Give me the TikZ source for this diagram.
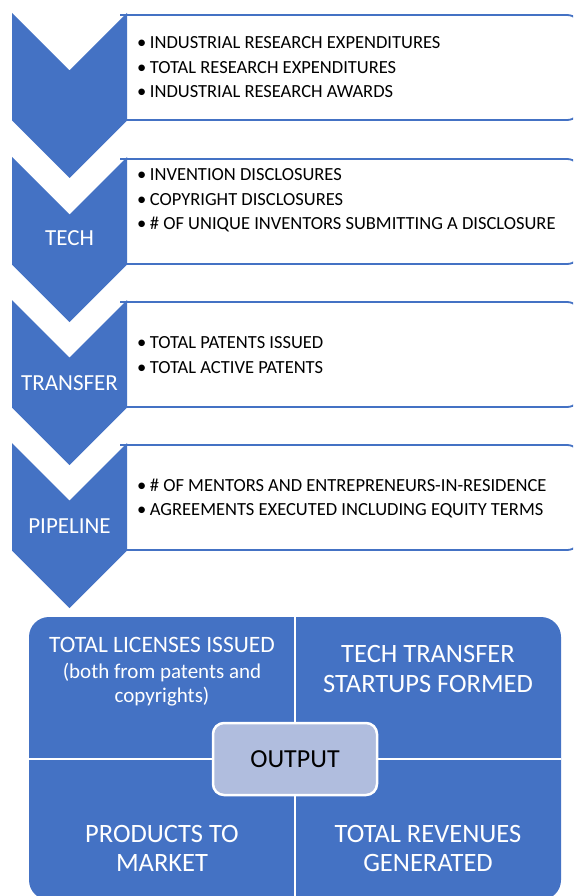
\documentclass[tikz,border=0pt]{standalone}
\usepackage{fontspec}
\setmainfont{Carlito}
\definecolor{accent}{HTML}{4472C4}
\definecolor{hub}{RGB}{176,189,222}

\begin{document}
\begin{tikzpicture}[x=1pt,y=-1pt,
  chevron/.style={fill=accent, draw=none},
  infobox/.style={draw=accent, line width=1.8pt, fill=white, rounded corners=14pt},
  item/.style={anchor=base west, inner sep=0pt, font=\fontsize{18.5}{22}\selectfont},
  stage/.style={anchor=base, inner sep=0pt, text=white, font=\fontsize{23}{27}\selectfont},
  celltxt/.style={anchor=base, inner sep=0pt, text=white, font=\fontsize{26.5}{30}\selectfont},
  cellsmall/.style={anchor=base, inner sep=0pt, text=white, font=\fontsize{21}{25}\selectfont},
  divider/.style={draw=white, line width=2.5pt},
  hubbox/.style={draw=white, line width=2.5pt, fill=hub, rounded corners=11pt,
    minimum width=164pt, minimum height=72pt, inner sep=0pt,
    font=\fontsize{26}{30}\selectfont, text=black}
]
\useasboundingbox (0,0) rectangle (573,896);
\clip (0,0) rectangle (573,896);

% text panels (open on the left, hidden under the chevrons)
\path[infobox] (120,15) -- (581,15) -- (581,120) -- (120,120);
\path[infobox] (120,159) -- (581,159) -- (581,264) -- (120,264);
\path[infobox] (120,302) -- (581,302) -- (581,407) -- (120,407);
\path[infobox] (120,445) -- (581,445) -- (581,550) -- (120,550);

% chevrons of the pipeline
\fill[chevron] (12,13) -- (69.5,70.5) -- (127,13) -- (127,120.5) -- (69.5,178) -- (12,120.5) -- cycle;
\fill[chevron] (12,157) -- (69.5,214.5) -- (127,157) -- (127,264.5) -- (69.5,322) -- (12,264.5) -- cycle;
\fill[chevron] (12,300) -- (69.5,357.5) -- (127,300) -- (127,407.5) -- (69.5,465) -- (12,407.5) -- cycle;
\fill[chevron] (12,443) -- (69.5,500.5) -- (127,443) -- (127,550.5) -- (69.5,608) -- (12,550.5) -- cycle;

% stage labels
\node[stage] (tech) at (69.5,245.4) {TECH};
\node[stage] (transfer) at (69.5,390.4) {TRANSFER};
\node[stage] (pipeline) at (69.5,533.4) {PIPELINE};

% bullet lists
\node[item] (r1) at (137,49) {•\hspace{3.5pt}INDUSTRIAL RESEARCH EXPENDITURES};
\node[item] (r2) at (137,74) {•\hspace{3.5pt}TOTAL RESEARCH EXPENDITURES};
\node[item] (r3) at (137,98) {•\hspace{3.5pt}INDUSTRIAL RESEARCH AWARDS};

\node[item] (d1) at (137,181) {•\hspace{3.5pt}INVENTION DISCLOSURES};
\node[item] (d2) at (137,205) {•\hspace{3.5pt}COPYRIGHT DISCLOSURES};
\node[item] (d3) at (137,229) {•\hspace{3.5pt}\# OF UNIQUE INVENTORS SUBMITTING A DISCLOSURE};

\node[item] (p1) at (137,348) {•\hspace{3.5pt}TOTAL PATENTS ISSUED};
\node[item] (p2) at (137,373) {•\hspace{3.5pt}TOTAL ACTIVE PATENTS};

\node[item] (m1) at (137,491) {•\hspace{3.5pt}\# OF MENTORS AND ENTREPRENEURS-IN-RESIDENCE};
\node[item] (m2) at (137,515) {•\hspace{3.5pt}AGREEMENTS EXECUTED INCLUDING EQUITY TERMS};

% output matrix
\fill[accent, rounded corners=20pt] (29,617) rectangle (561,900);
\draw[divider] (295,617) -- (295,900);
\draw[divider] (29,759) -- (561,759);

\node[celltxt, font=\fontsize{23.5}{28}\selectfont] (lic1) at (162,652.7) {TOTAL LICENSES ISSUED};
\node[cellsmall] (lic2) at (162,678) {(both from patents and};
\node[cellsmall] (lic3) at (162,702) {copyrights)};

\node[celltxt] (st1) at (428,662.5) {TECH TRANSFER};
\node[celltxt] (st2) at (428,692.5) {STARTUPS FORMED};

\node[celltxt] (pm1) at (162,842.5) {PRODUCTS TO};
\node[celltxt] (pm2) at (162,871.5) {MARKET};

\node[celltxt] (rv1) at (428,842.5) {TOTAL REVENUES};
\node[celltxt] (rv2) at (428,871.5) {GENERATED};

\node[hubbox] (out) at (295,759) {OUTPUT};
\end{tikzpicture}
\end{document}
